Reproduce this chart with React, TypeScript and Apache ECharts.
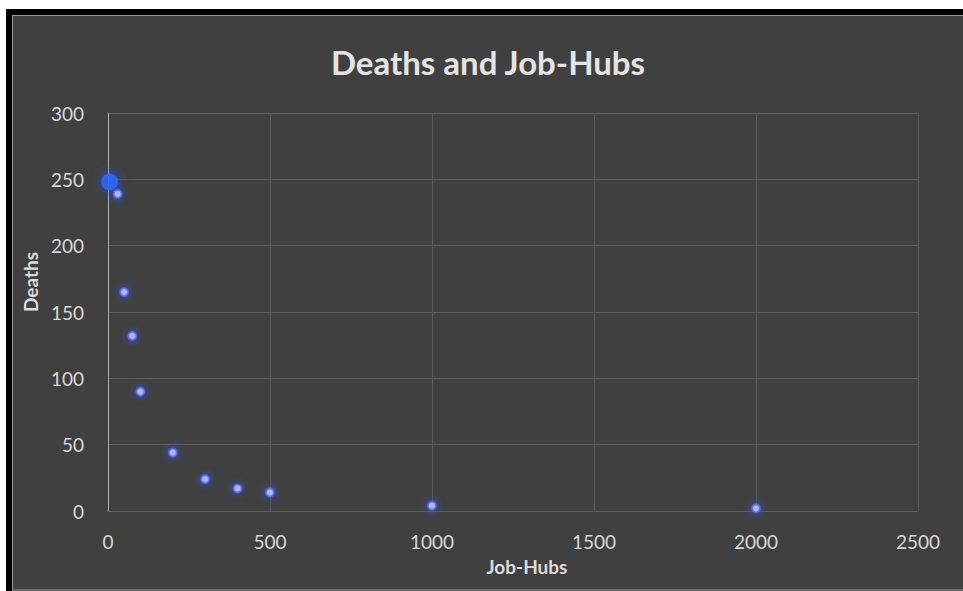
import React, { useEffect, useRef } from "react";
import * as echarts from "echarts";

// Job-hub counts and the deaths recorded for each
const jobHubs = [30, 50, 75, 100, 200, 300, 400, 500, 1000, 2000];
const deaths = [239, 165, 132, 90, 44, 24, 17, 14, 4, 2];
// The leading cluster near the origin, drawn as a larger glowing mark
const clusterHubs = [5];
const clusterDeaths = [248];

const xTicks = [0, 500, 1000, 1500, 2000, 2500];
const yTicks = [0, 50, 100, 150, 200, 250, 300];

const FONT = "Lato, 'Open Sans', sans-serif";

export default function App() {
  const ref = useRef<HTMLDivElement>(null);

  useEffect(() => {
    if (!ref.current) return;
    const chart = echarts.init(ref.current, undefined, { renderer: "svg" });
    chart.setOption({
      animation: false,
      backgroundColor: "#404040",
      title: {
        text: "Deaths and Job-Hubs",
        left: "center",
        top: 24,
        textStyle: {
          color: "#e4e4e4",
          fontFamily: FONT,
          fontWeight: "bold",
          fontSize: 33,
        },
      },
      grid: { left: 94, right: 45, top: 97, bottom: 78 },
      xAxis: {
        type: "value",
        min: xTicks[0],
        max: xTicks[xTicks.length - 1],
        interval: 500,
        name: "Job-Hubs",
        nameLocation: "middle",
        nameGap: 46,
        nameTextStyle: {
          color: "#dcdcdc",
          fontFamily: FONT,
          fontWeight: "bold",
          fontSize: 19,
          padding: [0, 0, 0, 28],
        },
        axisLine: { show: false },
        axisTick: { show: false },
        axisLabel: {
          color: "#d8d8d8",
          fontFamily: FONT,
          fontSize: 19,
          margin: 21,
          formatter: (v: number) => String(v),
        },
        splitLine: { show: true, lineStyle: { color: "#5a5a5a", width: 1 } },
      },
      yAxis: {
        type: "value",
        min: yTicks[0],
        max: yTicks[yTicks.length - 1],
        interval: 50,
        name: "Deaths",
        nameLocation: "middle",
        nameGap: 62,
        nameRotate: 90,
        nameTextStyle: {
          color: "#dcdcdc",
          fontFamily: FONT,
          fontWeight: "bold",
          fontSize: 19,
          padding: [0, 0, 0, 60],
        },
        axisLine: { show: true, lineStyle: { color: "#b0b0b0", width: 1 } },
        axisTick: { show: false },
        axisLabel: {
          color: "#d8d8d8",
          fontFamily: FONT,
          fontSize: 19,
          margin: 24,
        },
        splitLine: { show: true, lineStyle: { color: "#5e5e5e", width: 1 } },
      },
      series: [
        {
          type: "scatter",
          data: clusterHubs.map((x, i) => [x, clusterDeaths[i]]),
          symbolSize: 17,
          itemStyle: {
            color: "#2f6cff",
            shadowBlur: 12,
            shadowColor: "#1f4dff",
          },
          z: 3,
        },
        {
          type: "scatter",
          data: jobHubs.map((x, i) => [x, deaths[i]]),
          symbolSize: 8,
          itemStyle: {
            color: "#c8d0ff",
            borderColor: "#5a6cf0",
            borderWidth: 2,
            shadowBlur: 8,
            shadowColor: "#3050ff",
          },
          z: 4,
        },
      ],
    });
    return () => chart.dispose();
  }, []);

  return (
    <div
      style={{
        position: "fixed",
        left: 0,
        top: 0,
        width: 963,
        height: 591,
        background: "#ffffff",
        overflow: "hidden",
      }}
    >
      <div
        style={{
          position: "absolute",
          left: 6,
          top: 9,
          width: 957,
          height: 582,
          background: "#000000",
        }}
      />
      <div
        style={{
          position: "absolute",
          left: 12,
          top: 15,
          width: 951,
          height: 576,
          boxSizing: "border-box",
          borderTop: "1px solid #9a9a9a",
          borderLeft: "1px solid #9a9a9a",
          borderBottom: "2px solid #6a6a6a",
          background: "#404040",
        }}
      >
        <div ref={ref} style={{ width: 950, height: 573 }} />
      </div>
    </div>
  );
}
